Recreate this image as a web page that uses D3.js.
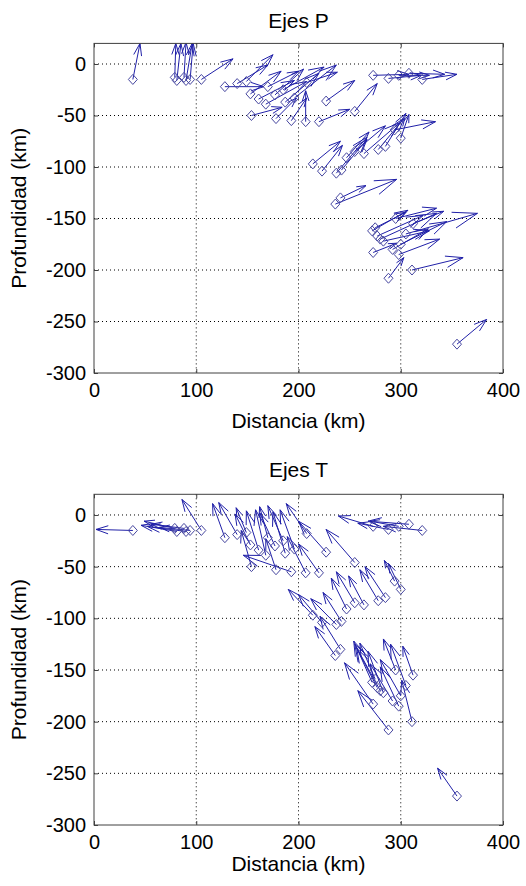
<!DOCTYPE html>
<html lang="es">
<head>
<meta charset="UTF-8">
<title>Ejes P y T</title>
<script src="https://d3js.org/d3.v7.min.js"></script>
<style>
  body { margin: 0; background: #fff; }
  text { font-family: "Liberation Sans", Arial, sans-serif; fill: #000; }
</style>
</head>
<body>
<script>
// Sismos: distancia (km) y profundidad (km)
const evX = [38, 79, 81, 88, 90, 94, 105,
  128, 140, 149, 153, 161, 168, 170, 177, 185, 187, 196, 154, 178, 193, 207, 220, 208, 227, 255,
  273, 288, 298, 308, 321,
  214, 223, 237, 242, 247, 255, 264, 278, 285, 294, 300, 236, 241,
  272, 275, 277, 280, 283, 273, 288, 295, 300, 305, 298, 311, 292, 312,
  355];
const evY = [-15, -13, -16, -13, -16, -15, -15,
  -22, -19, -17, -29, -34, -39, -22, -30, -25, -37, -33, -50, -53, -55, -56, -56, -18, -36, -46,
  -11, -14, -11, -9, -15,
  -97, -104, -106, -103, -91, -85, -87, -83, -80, -64, -72, -136, -130,
  -162, -159, -167, -170, -172, -183, -208, -150, -175, -165, -185, -200, -180, -155,
  -272];

// Ejes P (componentes u, v)
const pU = [7, 1, 4, 2, 6, 3, 31,
  38, 30, 26, 30, 35, 40, 30, 28, 40, 33, 41, 30, 20, 15, 0, 30, 30, 28, 22,
  35, 32, 30, 35, 34,
  27, 20, 30, 25, 22, 30, 35, 25, 20, 40, 8, 60, 25,
  35, 30, 45, 55, 45, 23, 15, 40, 45, 70, 40, 50, 35, 30,
  29];
const pV = [35, 33, 36, 34, 36, 35, 20,
  0, 18, 26, 22, 18, 22, 15, 25, 22, 28, 32, 8, 20, 22, 30, 12, 10, 20, 27,
  1, 3, 0, -1, 5,
  22, 25, 35, 30, 25, 25, 30, 30, 32, 8, 23, 24, 12,
  20, 15, 20, 25, 10, 9, 20, 10, 22, 20, 15, 12, 20, 12,
  24];

// Ejes T (componentes u, v)
const tU = [-36, -30, -35, -32, -38, -30, -19,
  -12, -18, -10, -15, -12, -10, -8, -15, -15, -12, -14, -10, -10, -47, -18, -20, -20, -27, -28,
  -34, -30, -28, -40, -38,
  -24, -23, -25, -18, -15, -18, -15, -18, -20, -10, -12, -20, -20,
  -18, -15, -20, -25, -15, -28, -30, -12, -20, -15, -18, -10, -22, -10,
  -19];
const tV = [1, 7, 6, 4, 5, 3, 30,
  33, 31, 24, 30, 38, 44, 30, 32, 34, 40, 38, 35, 30, 16, 35, 28, 29, 30, 32,
  10, 6, 5, 3, 4,
  25, 27, 25, 28, 30, 30, 28, 30, 30, 20, 25, 28, 32,
  40, 35, 38, 45, 40, 40, 38, 30, 35, 40, 38, 40, 36, 28,
  27];

const xTicks = [0, 100, 200, 300, 400];
const yTicks = [0, -50, -100, -150, -200, -250, -300];
const titles = ["Ejes P", "Ejes T"];
const xLabel = "Distancia (km)";
const yLabel = "Profundidad (km)";

const W = 526, H = 886;
const svg = d3.select("body").append("svg")
  .attr("width", W).attr("height", H);

const blue = "#2020a8";
const diamondCol = "#4848a0";

// dos paneles, uno arriba y otro abajo
const panels = [
  { top: 43.4, bottom: 373, titleY: 28, xlabY: 428, u: pU, v: pV },
  { top: 494.3, bottom: 825, titleY: 477, xlabY: 871, u: tU, v: tV }
];

panels.forEach((p, k) => {
  const x = d3.scaleLinear().domain([0, 400]).range([94, 503]);
  const y = d3.scaleLinear().domain([-300, 20]).range([p.bottom, p.top]);
  const g = svg.append("g");

  const clipId = "clip" + k;
  g.append("clipPath").attr("id", clipId).append("rect")
    .attr("x", 94).attr("y", p.top).attr("width", 409).attr("height", p.bottom - p.top);

  // rejilla punteada
  g.append("g").selectAll("line").data(xTicks.slice(1, -1)).enter().append("line")
    .attr("x1", d => x(d)).attr("x2", d => x(d))
    .attr("y1", p.top).attr("y2", p.bottom)
    .attr("stroke", "#000").attr("stroke-dasharray", "1,3");
  g.append("g").selectAll("line").data(yTicks.slice(0, -1)).enter().append("line")
    .attr("x1", 94).attr("x2", 503)
    .attr("y1", d => y(d)).attr("y2", d => y(d))
    .attr("stroke", "#000").attr("stroke-dasharray", "1,3");

  // flechas (como quiver de matlab)
  const alpha = 0.33, beta = 0.33;
  const arrows = g.append("g").attr("clip-path", "url(#" + clipId + ")");
  evX.forEach((ex, i) => {
    const u = p.u[i], v = p.v[i];
    const tx = ex + u, ty = evY[i] + v;
    const h1 = [tx - alpha * (u + beta * v), ty - alpha * (v - beta * u)];
    const h2 = [tx - alpha * (u - beta * v), ty - alpha * (v + beta * u)];
    const path = d3.path();
    path.moveTo(x(ex), y(evY[i]));
    path.lineTo(x(tx), y(ty));
    path.moveTo(x(h1[0]), y(h1[1]));
    path.lineTo(x(tx), y(ty));
    path.lineTo(x(h2[0]), y(h2[1]));
    arrows.append("path").attr("d", path.toString())
      .attr("fill", "none").attr("stroke", blue).attr("stroke-width", 1);
  });

  // rombos de los eventos
  g.append("g").selectAll("path").data(evX).enter().append("path")
    .attr("d", (d, i) => {
      const cx = x(d), cy = y(evY[i]);
      return `M${cx},${cy - 5}L${cx + 4.5},${cy}L${cx},${cy + 5}L${cx - 4.5},${cy}Z`;
    })
    .attr("fill", "none").attr("stroke", diamondCol).attr("stroke-width", 1);

  // ejes
  const ax = g.append("g").attr("transform", `translate(0,${p.bottom})`)
    .call(d3.axisBottom(x).tickValues(xTicks).tickSize(-4).tickPadding(10));
  const ay = g.append("g").attr("transform", "translate(94,0)")
    .call(d3.axisLeft(y).tickValues(yTicks).tickSize(-4).tickPadding(8));
  g.append("g").attr("transform", `translate(0,${p.top})`)
    .call(d3.axisTop(x).tickValues(xTicks).tickSize(-4).tickFormat(""));
  g.append("g").attr("transform", "translate(503,0)")
    .call(d3.axisRight(y).tickValues(yTicks).tickSize(-4).tickFormat(""));
  g.selectAll(".domain").remove();
  g.selectAll(".tick line").attr("stroke", "#404040");
  [ax, ay].forEach(a => a.selectAll("text")
    .style("font-size", "20px").style("font-family", "Liberation Sans, Arial, sans-serif").attr("fill", "#000"));
  ay.selectAll("text").text(d => d === 0 ? "0" : String(d));

  g.append("rect").attr("x", 94).attr("y", p.top)
    .attr("width", 409).attr("height", p.bottom - p.top)
    .attr("fill", "none").attr("stroke", "#404040").attr("stroke-width", 1);

  // textos
  g.append("text").attr("x", 298.5).attr("y", p.titleY)
    .attr("text-anchor", "middle").style("font-size", "21px").text(titles[k]);
  g.append("text").attr("x", 298.5).attr("y", p.xlabY)
    .attr("text-anchor", "middle").style("font-size", "21px").text(xLabel);
  g.append("text")
    .attr("transform", `translate(26,${(p.top + p.bottom) / 2}) rotate(-90)`)
    .attr("text-anchor", "middle").style("font-size", "21px").text(yLabel);
});
</script>
</body>
</html>
